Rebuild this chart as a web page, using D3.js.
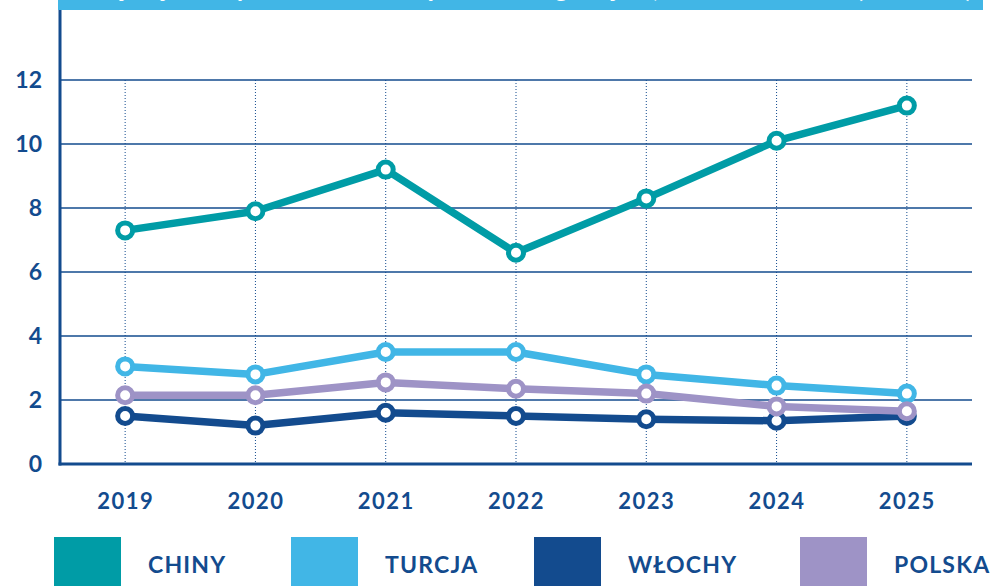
<!DOCTYPE html>
<html>
<head>
<meta charset="utf-8">
<script src="https://cdn.jsdelivr.net/npm/d3@7"></script>
<style>
  html, body { margin: 0; padding: 0; background: #fff; }
  svg text { font-family: Lato, "Open Sans", sans-serif; }
</style>
</head>
<body>
<div id="chart"></div>
<script>
const years = ["2019", "2020", "2021", "2022", "2023", "2024", "2025"];
const yTicks = [0, 2, 4, 6, 8, 10, 12];
const seriesNames = ["CHINY", "TURCJA", "WŁOCHY", "POLSKA"];
const chiny = [7.3, 7.9, 9.2, 6.6, 8.3, 10.1, 11.2];
const turcja = [3.05, 2.8, 3.5, 3.5, 2.8, 2.45, 2.2];
const wlochy = [1.5, 1.2, 1.6, 1.5, 1.4, 1.35, 1.5];
const polska = [2.15, 2.15, 2.55, 2.35, 2.2, 1.8, 1.65];
const title = "Największe rynki dostaw: eksport według krajów, lata 2019–2025 (mld USD)";

const width = 995,
  height = 586,
  margin = { top: 80, right: 23, bottom: 122, left: 60 },
  navy = "#134b8e";

const colors = {
  CHINY: "#009ca6",
  TURCJA: "#41b6e6",
  "WŁOCHY": "#134b8e",
  POLSKA: "#9e93c6"
};
const values = { CHINY: chiny, TURCJA: turcja, "WŁOCHY": wlochy, POLSKA: polska };

const svg = d3
  .select("#chart")
  .append("svg")
  .attr("width", width)
  .attr("height", height);

const x = d3
  .scalePoint()
  .domain(years)
  .range([margin.left, width - margin.right])
  .padding(0.5);

const y = d3
  .scaleLinear()
  .domain([0, 12])
  .range([height - margin.bottom, margin.top]);

// title banner (its text sits above the visible area)
svg
  .append("rect")
  .attr("x", 58)
  .attr("y", -40)
  .attr("width", 925)
  .attr("height", 50)
  .attr("fill", "#41b6e6");
svg
  .append("text")
  .attr("x", 530)
  .attr("y", -3)
  .attr("text-anchor", "middle")
  .attr("fill", "#fff")
  .attr("font-weight", 700)
  .attr("font-size", 26)
  .text(title);

// horizontal grid
svg
  .append("g")
  .selectAll("line")
  .data(yTicks.filter(d => d > 0))
  .join("line")
  .attr("x1", margin.left)
  .attr("x2", width - margin.right)
  .attr("y1", d => y(d))
  .attr("y2", d => y(d))
  .attr("stroke", navy)
  .attr("stroke-width", 1.5);

// dotted verticals
svg
  .append("g")
  .selectAll("line")
  .data(years)
  .join("line")
  .attr("x1", d => x(d))
  .attr("x2", d => x(d))
  .attr("y1", y(12))
  .attr("y2", y(0))
  .attr("stroke", navy)
  .attr("stroke-width", 1)
  .attr("stroke-dasharray", "1,2");

// axes lines
svg
  .append("line")
  .attr("x1", margin.left)
  .attr("x2", margin.left)
  .attr("y1", 10)
  .attr("y2", y(0) + 1.5)
  .attr("stroke", navy)
  .attr("stroke-width", 3);
svg
  .append("line")
  .attr("x1", margin.left - 1.5)
  .attr("x2", width - margin.right)
  .attr("y1", y(0))
  .attr("y2", y(0))
  .attr("stroke", navy)
  .attr("stroke-width", 3);

const yAxis = d3.axisLeft(y).tickValues(yTicks).tickSize(0).tickPadding(18);
const gy = svg
  .append("g")
  .attr("transform", "translate(" + margin.left + ",0)")
  .call(yAxis);
gy.select(".domain").remove();
gy.selectAll(".tick text")
  .attr("fill", navy)
  .attr("font-size", 23)
  .attr("font-weight", 700)
  .attr("font-family", "Lato, sans-serif");

const xAxis = d3.axisBottom(x).tickSize(0).tickPadding(29);
const gx = svg
  .append("g")
  .attr("transform", "translate(0," + y(0) + ")")
  .call(xAxis);
gx.select(".domain").remove();
gx.selectAll(".tick text")
  .attr("fill", navy)
  .attr("font-size", 22)
  .attr("font-weight", 700)
  .attr("letter-spacing", 1.5)
  .attr("font-family", "Lato, sans-serif");

// lines
const line = d3
  .line()
  .x((d, i) => x(years[i]))
  .y(d => y(d));

const drawOrder = ["CHINY", "TURCJA", "WŁOCHY", "POLSKA"];
drawOrder.forEach(name => {
  const g = svg.append("g");
  g.append("path")
    .datum(values[name])
    .attr("fill", "none")
    .attr("stroke", colors[name])
    .attr("stroke-width", 7.5)
    .attr("stroke-linejoin", "round")
    .attr("d", line);
  g.selectAll("circle")
    .data(values[name])
    .join("circle")
    .attr("cx", (d, i) => x(years[i]))
    .attr("cy", d => y(d))
    .attr("r", 7.5)
    .attr("fill", "#fff")
    .attr("stroke", colors[name])
    .attr("stroke-width", 5);
});

// legend
const legendX = [54, 291, 534, 800];
const legend = svg
  .append("g")
  .selectAll("g")
  .data(seriesNames)
  .join("g")
  .attr("transform", (d, i) => "translate(" + legendX[i] + ",537)");
legend
  .append("rect")
  .attr("width", 67)
  .attr("height", 60)
  .attr("fill", d => colors[d]);
legend
  .append("text")
  .attr("x", 94)
  .attr("y", 36)
  .attr("fill", navy)
  .attr("font-size", 23)
  .attr("font-weight", 700)
  .attr("letter-spacing", 1.2)
  .text(d => d);
</script>
</body>
</html>
